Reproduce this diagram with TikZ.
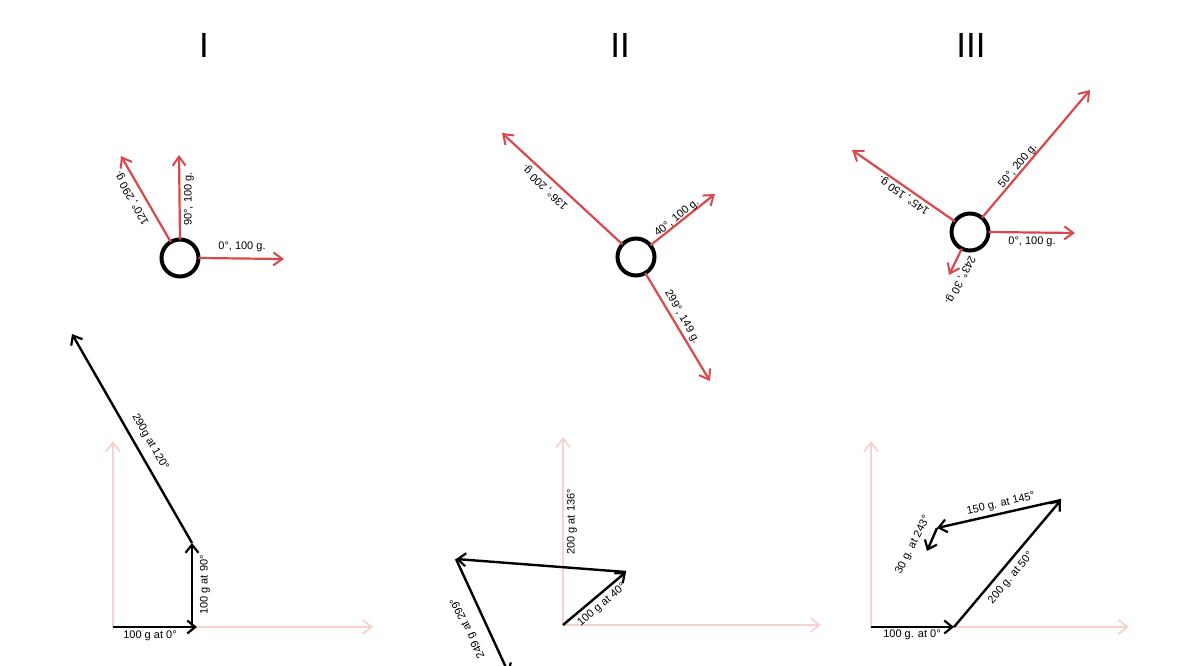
\documentclass[tikz,border=0pt]{standalone}
\usepackage{fontspec}
\setmainfont{Liberation Sans}
\usetikzlibrary{arrows.meta}
\definecolor{vred}{HTML}{D9484A}
\definecolor{axpink}{HTML}{F6D3D3}
\begin{document}
\begin{tikzpicture}[x=1pt,y=-1pt,
  redvec/.style={draw=vred,line width=2.2pt,-{Straight Barb[length=9pt,width=13pt,line width=2pt]}},
  blkvec/.style={draw=black,line width=2.4pt,-{Straight Barb[length=8pt,width=13pt,line width=2.2pt]}},
  axis/.style={draw=axpink,line width=2pt,-{Straight Barb[length=9pt,width=14pt,line width=1.8pt]}},
  ring/.style={circle,draw=black,line width=4pt,minimum size=37pt,inner sep=0pt,outer sep=0pt},
  lbl/.style={font=\fontsize{11}{12}\selectfont,inner sep=0pt},
  ttl/.style={font=\fontsize{35}{40}\selectfont,inner sep=0pt}]
\clip (0,0) rectangle (1184,666);
\fill[white] (0,0) rectangle (1184,666);

% titles
\node[ttl] (t1) at (204,45) {I};
\node[ttl] (t2) at (620,45) {II};
\node[ttl] (t3) at (971,45) {III};

% ---------- Panel I top ----------
\node[ring] (c1) at (180,258) {};
\coordinate (p1a) at (284,259);
\coordinate (p1b) at (179,155);
\coordinate (p1c) at (121,156);
\draw[redvec] (c1.0) -- (p1a);
\draw[redvec] (c1.90) -- (p1b);
\draw[redvec] (c1.120) -- (p1c);
\node[lbl] (l1a) at (242,247) {0°, 100 g.};
\node[lbl,rotate=90] (l1b) at (189,199) {90°, 100 g.};
\node[lbl,rotate=120] (l1c) at (132,198) {120°, 290 g.};

% ---------- Panel II top ----------
\node[ring] (c2) at (636,257) {};
\coordinate (p2a) at (502,133);
\coordinate (p2b) at (715,194);
\coordinate (p2c) at (710,381);
\draw[redvec] (c2.137) -- (p2a);
\draw[redvec] (c2.39) -- (p2b);
\draw[redvec] (c2.300) -- (p2c);
\node[lbl,rotate=136] (l2a) at (545,187) {136°, 200 g.};
\node[lbl,rotate=39] (l2b) at (677,218) {40°, 100 g.};
\node[lbl,rotate=-60] (l2c) at (682,317) {299°, 149 g.};

% ---------- Panel III top ----------
\node[ring] (c3) at (970,232) {};
\coordinate (p3a) at (1090,90);
\coordinate (p3b) at (852,150);
\coordinate (p3c) at (1075,233);
\coordinate (p3d) at (949,275);
\draw[redvec] (c3.50) -- (p3a);
\draw[redvec] (c3.145) -- (p3b);
\draw[redvec] (c3.0) -- (p3c);
\draw[redvec] (c3.244) -- (p3d);
\node[lbl,rotate=50] (l3a) at (1018,166) {50°, 200 g.};
\node[lbl,rotate=145] (l3b) at (904,195) {145°, 150 g.};
\node[lbl] (l3c) at (1032,242) {0°, 100 g.};
\node[lbl,rotate=243] (l3d) at (960,280) {243°, 30 g.};

% ---------- Panel I bottom ----------
\coordinate (o1) at (113,627);
\coordinate (o1y) at (113,441);
\coordinate (o1x) at (373,627);
\draw[axis] (o1) -- (o1y);
\draw[axis] (o1) -- (o1x);
\coordinate (q1a) at (197,627);
\coordinate (q1b) at (192,627);
\coordinate (q1c) at (192,543);
\coordinate (q1d) at (72,334);
\draw[blkvec] (o1) -- (q1a);
\draw[blkvec] (q1b) -- (q1c);
\draw[blkvec] (q1c) -- (q1d);
\node[lbl] (m1a) at (150,636) {100 g at 0°};
\node[lbl,rotate=90] (m1b) at (205,585) {100 g at 90°};
\node[lbl,rotate=-60] (m1c) at (150,442) {290g at 120°};

% ---------- Panel II bottom ----------
\coordinate (o2) at (563,625);
\coordinate (o2y) at (563,437);
\coordinate (o2x) at (821,625);
\draw[axis] (o2) -- (o2y);
\draw[axis] (o2) -- (o2x);
\coordinate (q2a) at (626,572);
\coordinate (q2b) at (456,559);
\coordinate (q2c) at (509,674);
\draw[blkvec] (o2) -- (q2a);
\draw[blkvec] (q2a) -- (q2b);
\draw[blkvec] (q2b) -- (q2c);
\node[lbl,rotate=40] (m2a) at (602,605) {100 g at 40°};
\node[lbl,rotate=90] (m2b) at (572,522) {200 g at 136°};
\node[lbl,rotate=116] (m2c) at (468,628) {249 g at 299°};

% ---------- Panel III bottom ----------
\coordinate (o3) at (871,627);
\coordinate (o3y) at (871,441);
\coordinate (o3x) at (1129,627);
\draw[axis] (o3) -- (o3y);
\draw[axis] (o3) -- (o3x);
\coordinate (q3a) at (954,627);
\coordinate (q3b) at (1061,500);
\coordinate (q3c) at (937,528);
\coordinate (q3d) at (927,551);
\draw[blkvec] (o3) -- (q3a);
\draw[blkvec] (q3a) -- (q3b);
\draw[blkvec] (q3b) -- (q3c);
\draw[blkvec] (q3c) -- (q3d);
\node[lbl] (m3a) at (912,635) {100 g. at 0°};
\node[lbl,rotate=50] (m3b) at (1011,578) {200 g. at 50°};
\node[lbl,rotate=13] (m3c) at (1001,504) {150 g. at 145°};
\node[lbl,rotate=63] (m3d) at (913,545) {30 g. at 243°};
\end{tikzpicture}
\end{document}
